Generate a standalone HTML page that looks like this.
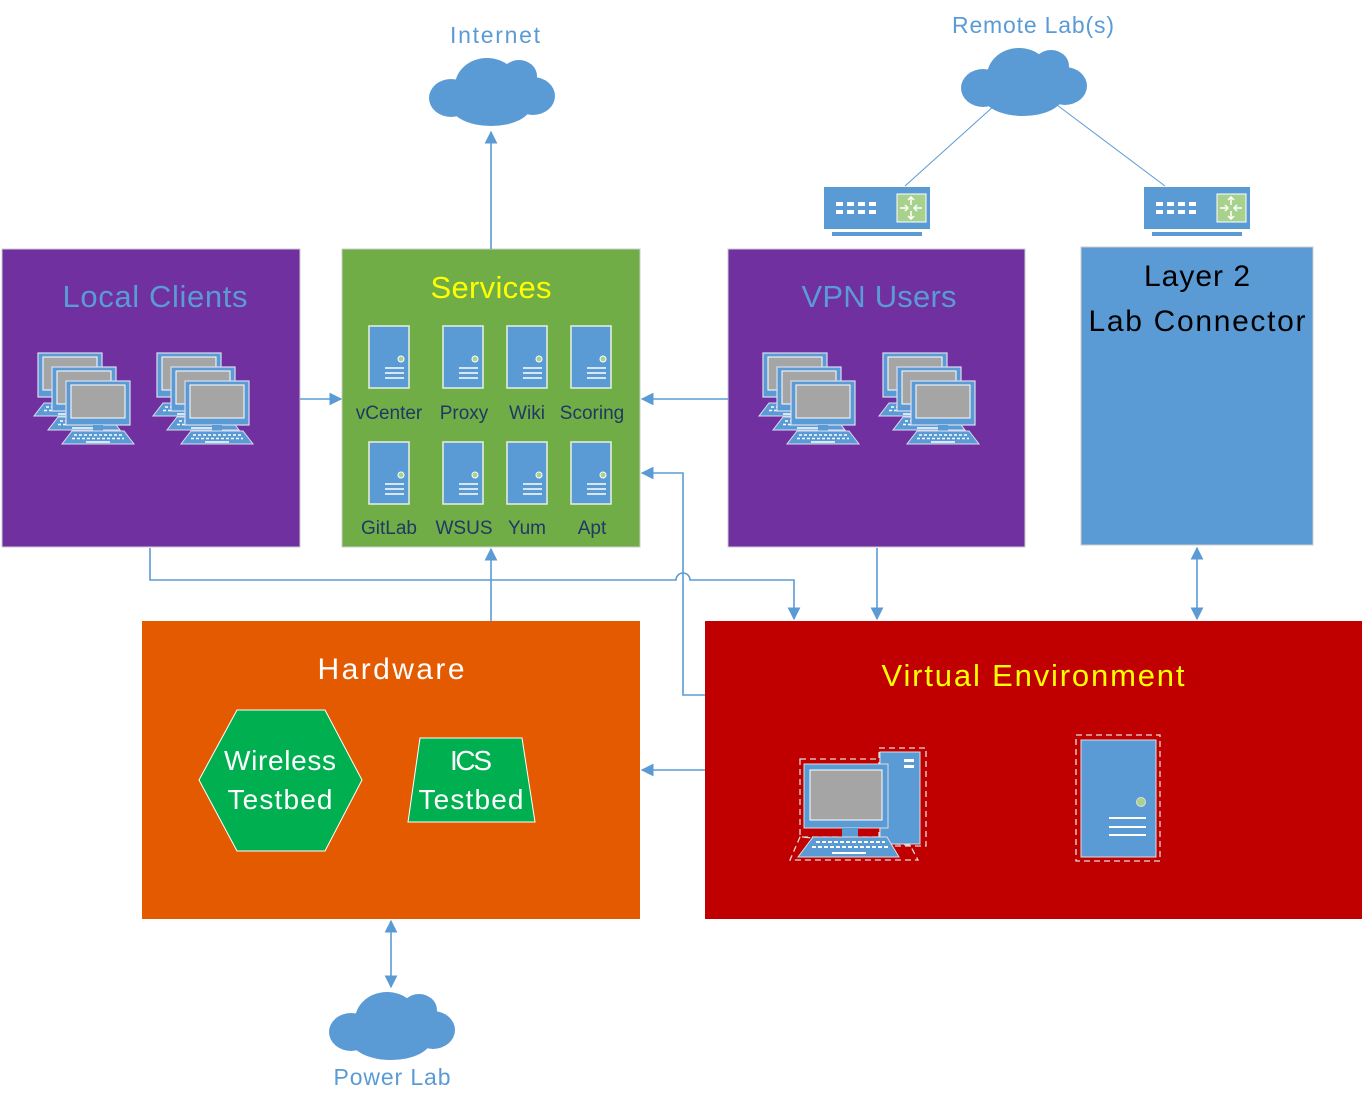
<!DOCTYPE html>
<html><head><meta charset="utf-8"><style>
html,body{margin:0;padding:0;background:#fff;}
svg{display:block;}
text{font-family:"Liberation Sans",sans-serif;}
</style></head><body>
<svg width="1364" height="1108" viewBox="0 0 1364 1108" xmlns="http://www.w3.org/2000/svg">
<defs>
<marker id="ar" viewBox="0 0 10 10" refX="9" refY="5" markerWidth="13" markerHeight="13" markerUnits="userSpaceOnUse" orient="auto-start-reverse">
<path d="M0,0 L10,5 L0,10 z" fill="#5b9bd5"/></marker>
<g id="cloud" fill="#5b9bd5">
<ellipse cx="22" cy="44" rx="22" ry="19"/>
<ellipse cx="58" cy="32" rx="32" ry="28"/>
<ellipse cx="90" cy="22" rx="18" ry="16"/>
<ellipse cx="104" cy="42" rx="22" ry="19"/>
<ellipse cx="62" cy="52" rx="40" ry="20"/>
</g>
<g id="lap">
<rect x="0" y="0" width="64" height="44" fill="#5b9bd5" stroke="#dde" stroke-width="1.2"/>
<rect x="5" y="4" width="54" height="33" fill="#a5a5a5" stroke="#fff" stroke-width="1"/>
<rect x="27" y="44" width="10" height="6" fill="#5b9bd5"/>
<polygon points="6,50 58,50 68,63 -4,63" fill="#5b9bd5" stroke="#dde" stroke-width="1"/>
<g stroke="#fff" stroke-width="1.5" stroke-dasharray="3 2"><line x1="8" y1="54" x2="56" y2="54"/><line x1="6" y1="57.5" x2="58" y2="57.5"/></g>
<line x1="20" y1="61" x2="44" y2="61" stroke="#fff" stroke-width="1.5"/>
</g>
<g id="stack"><use href="#lap" x="0" y="0"/><use href="#lap" x="14" y="14"/><use href="#lap" x="28" y="28"/></g>
<g id="srv">
<rect x="0" y="0" width="40" height="62" fill="#5b9bd5" stroke="#e8f0e0" stroke-width="1.5"/>
<circle cx="32" cy="33" r="3" fill="#a9d18e" stroke="#fff" stroke-width="1"/>
<g stroke="#fff" stroke-width="1.5"><line x1="16" y1="42" x2="35" y2="42"/><line x1="16" y1="47" x2="35" y2="47"/><line x1="16" y1="52" x2="35" y2="52"/></g>
</g>
<g id="sw">
<rect x="0" y="0" width="106" height="42" fill="#5b9bd5"/>
<rect x="73" y="7" width="29" height="28" fill="#a9d18e" stroke="#fff" stroke-width="1"/>
<g stroke="#fff" stroke-width="1.5" fill="none"><line x1="87" y1="10" x2="87" y2="18"/><line x1="87" y1="24" x2="87" y2="32"/><line x1="76" y1="21" x2="84" y2="21"/><line x1="90" y1="21" x2="98" y2="21"/>
<path d="M84,13 L87,10 L90,13 M84,29 L87,32 L90,29 M81,18 L84,21 L81,24 M93,18 L90,21 L93,24"/></g>
<g fill="#fff"><rect x="12" y="15" width="7" height="4"/><rect x="23" y="15" width="7" height="4"/><rect x="34" y="15" width="7" height="4"/><rect x="45" y="15" width="7" height="4"/>
<rect x="12" y="23" width="7" height="4"/><rect x="23" y="23" width="7" height="4"/><rect x="34" y="23" width="7" height="4"/><rect x="45" y="23" width="7" height="4"/></g>
<rect x="8" y="45" width="90" height="4" fill="#5b9bd5"/>
</g>
</defs>

<use href="#cloud" transform="translate(429,54)"/>
<use href="#cloud" transform="translate(961,44)"/>
<use href="#cloud" transform="translate(329,988)"/>
<text x="495" y="43" font-size="23" fill="#5b9bd5" text-anchor="middle" textLength="90">Internet</text>
<text x="1033" y="33" font-size="23" fill="#5b9bd5" text-anchor="middle" textLength="162">Remote Lab(s)</text>
<text x="392" y="1085" font-size="23" fill="#5b9bd5" text-anchor="middle" textLength="117">Power Lab</text>

<use href="#sw" transform="translate(824,187)"/>
<use href="#sw" transform="translate(1144,187)"/>
<g stroke="#5b9bd5" stroke-width="1"><line x1="995" y1="105" x2="905" y2="186"/><line x1="1057" y1="105" x2="1165" y2="186"/></g>

<rect x="2" y="249" width="298" height="298" fill="#7030a0" stroke="#ccc" stroke-width="1"/>
<rect x="342" y="249" width="298" height="298" fill="#70ad47" stroke="#ccc" stroke-width="1"/>
<rect x="728" y="249" width="297" height="298" fill="#7030a0" stroke="#ccc" stroke-width="1"/>
<rect x="1081" y="247" width="232" height="298" fill="#5b9bd5" stroke="#ccc" stroke-width="1"/>
<rect x="142" y="621" width="498" height="298" fill="#e45a01"/>
<rect x="705" y="621" width="657" height="298" fill="#c00000"/>

<text x="155" y="307" font-size="31" fill="#5b9bd5" text-anchor="middle" textLength="185">Local Clients</text>
<text x="491" y="298" font-size="31" fill="#ffff00" text-anchor="middle" textLength="121">Services</text>
<text x="879" y="307" font-size="31" fill="#5b9bd5" text-anchor="middle" textLength="155">VPN Users</text>
<text x="1197" y="286" font-size="30" fill="#000" text-anchor="middle" textLength="106">Layer 2</text>
<text x="1197" y="331" font-size="30" fill="#000" text-anchor="middle" textLength="217">Lab Connector</text>
<text x="391" y="679" font-size="30" fill="#fff" text-anchor="middle" textLength="147">Hardware</text>
<text x="1033" y="686" font-size="31" fill="#ffff00" text-anchor="middle" textLength="303">Virtual Environment</text>

<use href="#stack" transform="translate(38,353)"/>
<use href="#stack" transform="translate(157,353)"/>
<use href="#stack" transform="translate(763,353)"/>
<use href="#stack" transform="translate(883,353)"/>

<use href="#srv" x="369" y="326"/><use href="#srv" x="443" y="326"/><use href="#srv" x="507" y="326"/><use href="#srv" x="571" y="326"/>
<use href="#srv" x="369" y="442"/><use href="#srv" x="443" y="442"/><use href="#srv" x="507" y="442"/><use href="#srv" x="571" y="442"/>
<g font-size="19" fill="#1f3864" text-anchor="middle">
<text x="389" y="419">vCenter</text><text x="464" y="419">Proxy</text><text x="527" y="419">Wiki</text><text x="592" y="419">Scoring</text>
<text x="389" y="534">GitLab</text><text x="464" y="534">WSUS</text><text x="527" y="534">Yum</text><text x="592" y="534">Apt</text>
</g>

<polygon points="199,780 237,710 325,710 362,780 325,851 237,851" fill="#00b050" stroke="#fff" stroke-width="1"/>
<polygon points="420,738 522,738 535,822 408,822" fill="#00b050" stroke="#fff" stroke-width="1"/>
<g font-size="28" fill="#fff" text-anchor="middle">
<text x="280" y="770" textLength="112">Wireless</text><text x="280" y="809" textLength="105">Testbed</text>
<text x="471" y="770" textLength="42">ICS</text><text x="471" y="809" textLength="105">Testbed</text>
</g>

<g transform="translate(790,745)">
<rect x="89" y="3" width="47" height="98" fill="none" stroke="#ddd" stroke-width="1.3" stroke-dasharray="6 4"/>
<rect x="10" y="14" width="80" height="78" fill="none" stroke="#ddd" stroke-width="1.3" stroke-dasharray="6 4"/>
<polygon points="10,92 0,115 128,115 120,100" fill="none" stroke="#ddd" stroke-width="1.3" stroke-dasharray="6 4"/>
<rect x="90" y="7" width="40" height="92" fill="#5b9bd5" stroke="#ddd" stroke-width="1"/>
<rect x="114" y="14" width="10" height="3" fill="#fff"/><rect x="114" y="20" width="10" height="3" fill="#fff"/>
<rect x="14" y="19" width="84" height="64" fill="#5b9bd5" stroke="#ddd" stroke-width="1"/>
<rect x="20" y="25" width="72" height="50" fill="#a5a5a5" stroke="#fff" stroke-width="1"/>
<rect x="52" y="83" width="16" height="9" fill="#5b9bd5"/>
<polygon points="23,92 97,92 109,112 8,112" fill="#5b9bd5" stroke="#ddd" stroke-width="1"/>
<g stroke="#fff" stroke-width="2" stroke-dasharray="4 2"><line x1="26" y1="97" x2="95" y2="97"/><line x1="22" y1="102" x2="99" y2="102"/></g>
<line x1="42" y1="108" x2="76" y2="108" stroke="#fff" stroke-width="2"/>
</g>
<g transform="translate(1076,735)">
<rect x="0" y="0" width="84" height="126" fill="none" stroke="#ddd" stroke-width="1.3" stroke-dasharray="6 4"/>
<rect x="5" y="5" width="75" height="117" fill="#5b9bd5" stroke="#ddd" stroke-width="1"/>
<circle cx="65" cy="67" r="4.5" fill="#a9d18e" stroke="#ddd" stroke-width="1"/>
<g stroke="#fff" stroke-width="2"><line x1="33" y1="83" x2="70" y2="83"/><line x1="33" y1="92" x2="70" y2="92"/><line x1="33" y1="100" x2="70" y2="100"/></g>
</g>

<g stroke="#5b9bd5" stroke-width="1.6" fill="none">
<line x1="491" y1="249" x2="491" y2="132" marker-end="url(#ar)"/>
<line x1="300" y1="399" x2="341" y2="399" marker-end="url(#ar)"/>
<line x1="728" y1="399" x2="642" y2="399" marker-end="url(#ar)"/>
<line x1="491" y1="621" x2="491" y2="549" marker-end="url(#ar)"/>
<path d="M150,548 V580 H676 A7,7 0 0 1 690,580 H794 V619" marker-end="url(#ar)"/>
<line x1="877" y1="548" x2="877" y2="619" marker-end="url(#ar)"/>
<line x1="1197" y1="548" x2="1197" y2="619" marker-start="url(#ar)" marker-end="url(#ar)"/>
<path d="M705,695 H683 V473 H642" marker-end="url(#ar)"/>
<line x1="705" y1="770" x2="642" y2="770" marker-end="url(#ar)"/>
<line x1="391" y1="921" x2="391" y2="987" marker-start="url(#ar)" marker-end="url(#ar)"/>
</g>
</svg>
</body></html>
